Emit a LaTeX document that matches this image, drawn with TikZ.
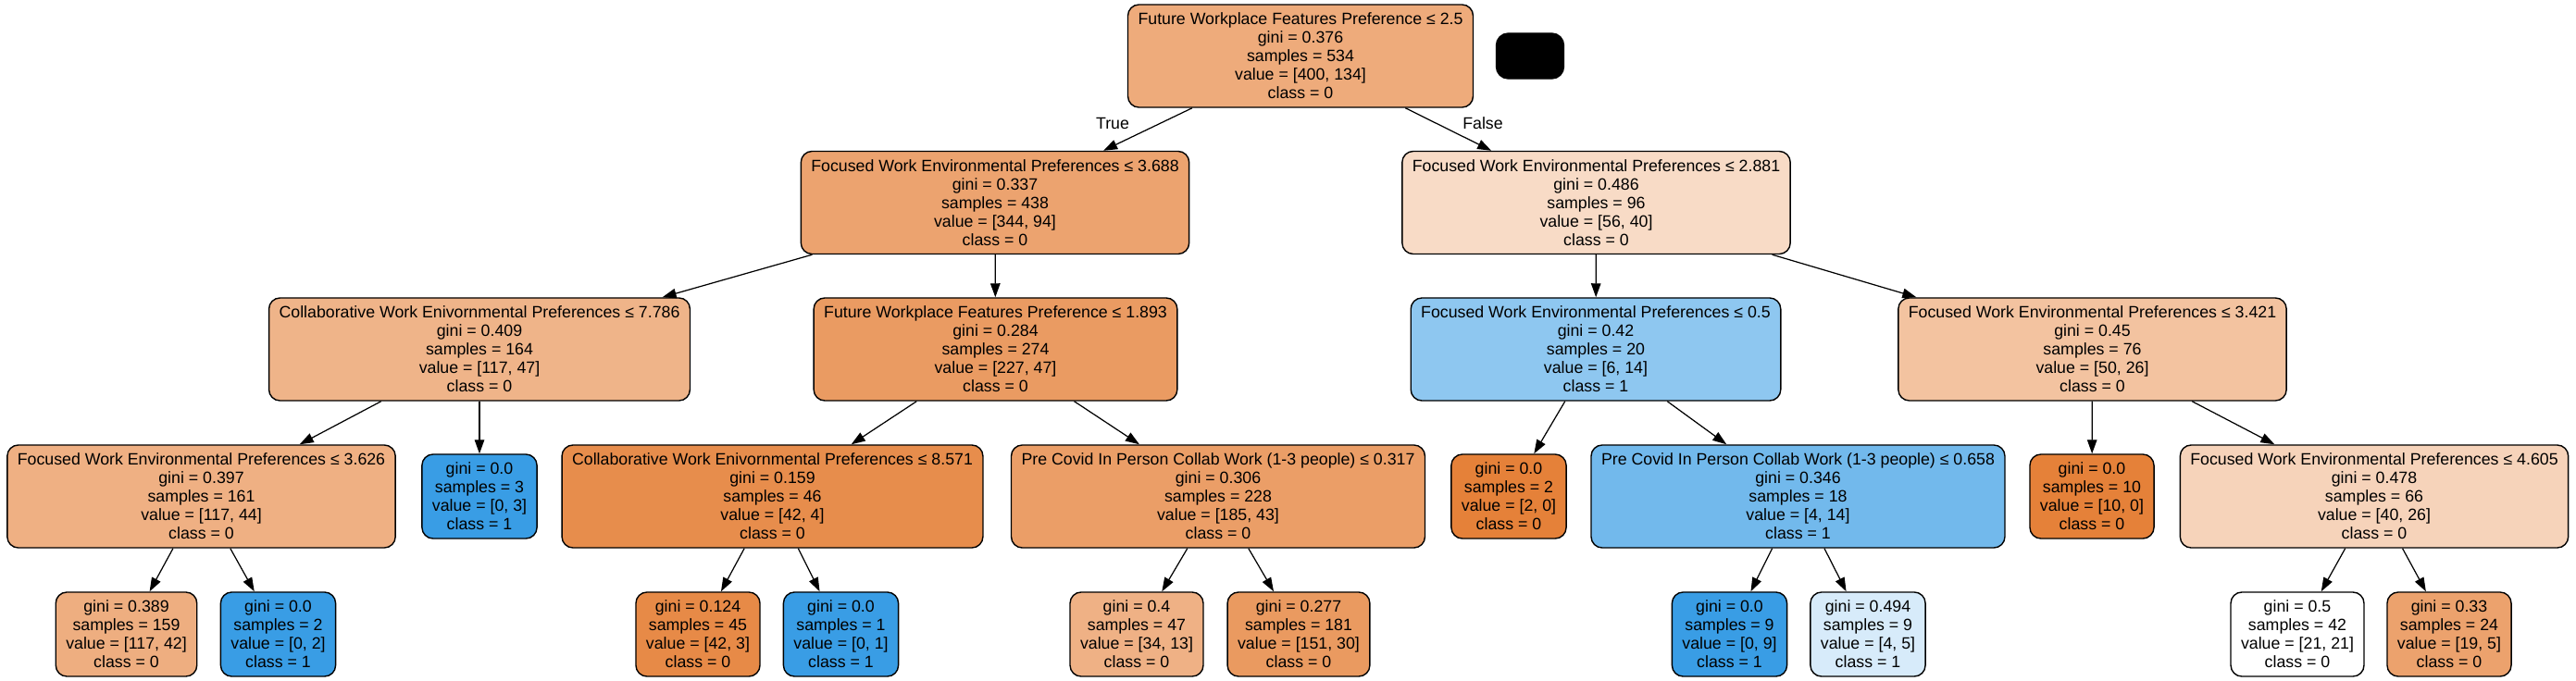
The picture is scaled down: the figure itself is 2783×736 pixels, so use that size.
\documentclass[tikz,border=0pt]{standalone}
\usepackage{fontspec}
\setmainfont{Liberation Sans}
\usetikzlibrary{arrows.meta}
\definecolor{clsA}{RGB}{229,129,57}
\definecolor{clsB}{RGB}{57,157,229}
\begin{document}
\begin{tikzpicture}[x=0.01cm,y=-0.01cm]
	\tikzstyle{txt} = [font=\fontsize{5.05}{5.69}\selectfont]
	\tikzstyle{decision} = [txt, draw, line width=0.4pt, rounded corners=1.2mm, align=center, inner xsep=1.1mm, inner ysep=0, minimum height=1.11cm]
	\tikzstyle{leaf} = [decision, minimum height=0.91cm]
	\tikzstyle{arrow} = [-{Triangle[length=1.5mm,width=1.05mm]}, line width=0.35pt]
	\useasboundingbox (0,0) rectangle (2783,736);
	
	\node [decision, fill=clsA!66.5] (n0) at (1405,60.5) {Future Workplace Features Preference ≤ 2.5\\gini = 0.376\\samples = 534\\value = [400, 134]\\class = 0};
	\node [draw, fill=black, rounded corners=1.3mm, minimum width=0.73cm, minimum height=0.49cm] (blob) at (1653,60.5) {};
	
	\node [decision, fill=clsA!72.7] (n1) at (1075,219) {Focused Work Environmental Preferences ≤ 3.688\\gini = 0.337\\samples = 438\\value = [344, 94]\\class = 0};
	\node [decision, fill=clsA!28.6] (n2) at (1724.5,219) {Focused Work Environmental Preferences ≤ 2.881\\gini = 0.486\\samples = 96\\value = [56, 40]\\class = 0};
	
	\node [decision, fill=clsA!59.8] (n3) at (518,377.5) {Collaborative Work Enivornmental Preferences ≤ 7.786\\gini = 0.409\\samples = 164\\value = [117, 47]\\class = 0};
	\node [decision, fill=clsA!79.3] (n4) at (1075.5,377.5) {Future Workplace Features Preference ≤ 1.893\\gini = 0.284\\samples = 274\\value = [227, 47]\\class = 0};
	\node [decision, fill=clsB!57.1] (n5) at (1724,377.5) {Focused Work Environmental Preferences ≤ 0.5\\gini = 0.42\\samples = 20\\value = [6, 14]\\class = 1};
	\node [decision, fill=clsA!48] (n6) at (2260.5,377.5) {Focused Work Environmental Preferences ≤ 3.421\\gini = 0.45\\samples = 76\\value = [50, 26]\\class = 0};
	
	\node [decision, fill=clsA!62.4] (n7) at (217.5,536.5) {Focused Work Environmental Preferences ≤ 3.626\\gini = 0.397\\samples = 161\\value = [117, 44]\\class = 0};
	\node [leaf, fill=clsB] (n8) at (518,536.5) {gini = 0.0\\samples = 3\\value = [0, 3]\\class = 1};
	\node [decision, fill=clsA!90.5] (n9) at (834.5,536.5) {Collaborative Work Enivornmental Preferences ≤ 8.571\\gini = 0.159\\samples = 46\\value = [42, 4]\\class = 0};
	\node [decision, fill=clsA!76.8] (n10) at (1316,536.5) {Pre Covid In Person Collab Work (1-3 people) ≤ 0.317\\gini = 0.306\\samples = 228\\value = [185, 43]\\class = 0};
	\node [leaf, fill=clsA] (n11) at (1630,536.5) {gini = 0.0\\samples = 2\\value = [2, 0]\\class = 0};
	\node [decision, fill=clsB!71.4] (n12) at (1942.5,536.5) {Pre Covid In Person Collab Work (1-3 people) ≤ 0.658\\gini = 0.346\\samples = 18\\value = [4, 14]\\class = 1};
	\node [leaf, fill=clsA] (n13) at (2260,536.5) {gini = 0.0\\samples = 10\\value = [10, 0]\\class = 0};
	\node [decision, fill=clsA!35] (n14) at (2565,536.5) {Focused Work Environmental Preferences ≤ 4.605\\gini = 0.478\\samples = 66\\value = [40, 26]\\class = 0};
	
	\node [leaf, fill=clsA!64.1] (n15) at (136.5,685.5) {gini = 0.389\\samples = 159\\value = [117, 42]\\class = 0};
	\node [leaf, fill=clsB] (n16) at (300.5,685.5) {gini = 0.0\\samples = 2\\value = [0, 2]\\class = 1};
	\node [leaf, fill=clsA!92.9] (n17) at (754,685.5) {gini = 0.124\\samples = 45\\value = [42, 3]\\class = 0};
	\node [leaf, fill=clsB] (n18) at (908.5,685.5) {gini = 0.0\\samples = 1\\value = [0, 1]\\class = 1};
	\node [leaf, fill=clsA!61.8] (n19) at (1228,685.5) {gini = 0.4\\samples = 47\\value = [34, 13]\\class = 0};
	\node [leaf, fill=clsA!80.1] (n20) at (1403,685.5) {gini = 0.277\\samples = 181\\value = [151, 30]\\class = 0};
	\node [leaf, fill=clsB] (n21) at (1868.5,685.5) {gini = 0.0\\samples = 9\\value = [0, 9]\\class = 1};
	\node [leaf, fill=clsB!20] (n22) at (2018,685.5) {gini = 0.494\\samples = 9\\value = [4, 5]\\class = 1};
	\node [leaf, fill=white] (n23) at (2482,685.5) {gini = 0.5\\samples = 42\\value = [21, 21]\\class = 0};
	\node [leaf, fill=clsA!73.7] (n24) at (2646,685.5) {gini = 0.33\\samples = 24\\value = [19, 5]\\class = 0};
	
	\node [txt] (ltrue) at (1202,133) {True};
	\node [txt] (lfalse) at (1602,133) {False};
	
	\draw [arrow] (n0) edge (n1) edge (n2);
	\draw [arrow] (n1) edge (n3) edge (n4);
	\draw [arrow] (n2) edge (n5) edge (n6);
	\draw [arrow] (n3) edge (n7) edge (n8);
	\draw [arrow] (n4) edge (n9) edge (n10);
	\draw [arrow] (n5) edge (n11) edge (n12);
	\draw [arrow] (n6) edge (n13) edge (n14);
	\draw [arrow] (n7) edge (n15) edge (n16);
	\draw [arrow] (n9) edge (n17) edge (n18);
	\draw [arrow] (n10) edge (n19) edge (n20);
	\draw [arrow] (n12) edge (n21) edge (n22);
	\draw [arrow] (n14) edge (n23) edge (n24);
\end{tikzpicture}
\end{document}
